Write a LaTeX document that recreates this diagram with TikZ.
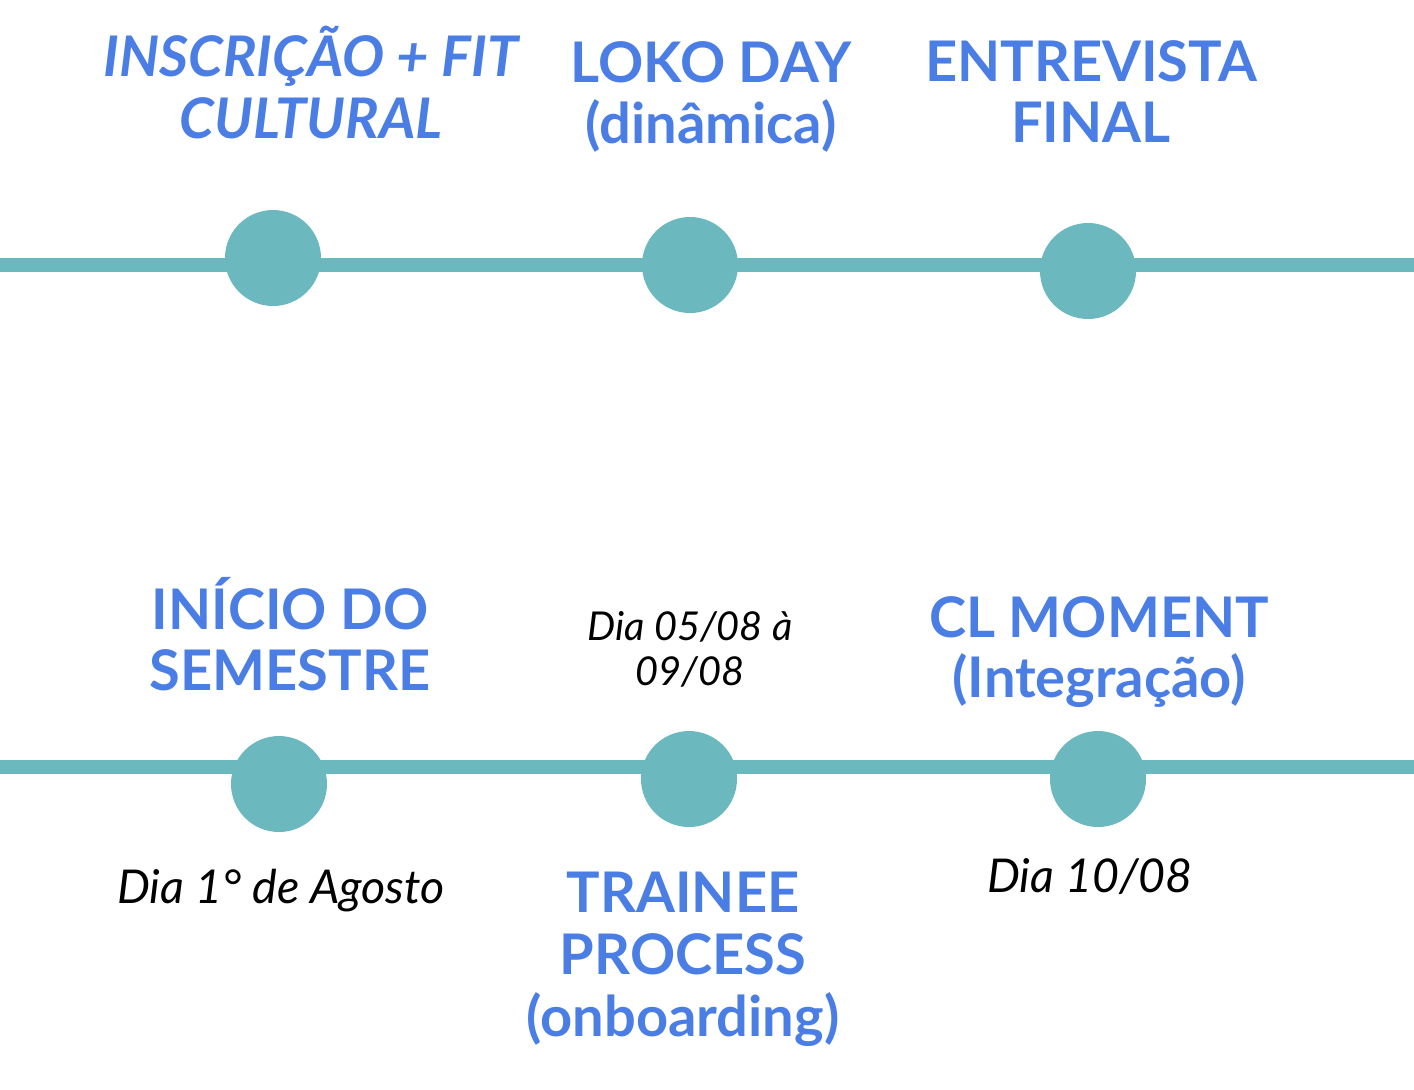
\documentclass[tikz,border=0pt]{standalone}
\usepackage{fontspec}
\setmainfont{Lato}
\definecolor{headblue}{RGB}{74,126,229}
\definecolor{teal}{RGB}{107,184,191}
\begin{document}
\begin{tikzpicture}[x=0.5pt,y=-0.5pt,
  tline/.style={draw=teal,line width=7pt},
  dot/.style={circle,fill=teal,minimum size=48pt,inner sep=0pt},
  head/.style={text=headblue,font=\fontsize{28}{30.5}\selectfont\bfseries,align=center,anchor=base,inner sep=0pt},
  headit/.style={head,font=\fontsize{28}{31}\selectfont\bfseries\itshape},
  date/.style={text=black,font=\fontsize{23.3}{24}\selectfont\itshape,align=center,anchor=base,inner sep=0pt}]
\useasboundingbox (0,0) rectangle (1414,1089);
% top timeline
\coordinate (tl) at (0,265);
\coordinate (tr) at (1414,265);
\draw[tline] (tl) -- (tr);
\node[dot] (c1) at (273,258) {};
\node[dot] (c2) at (690,265) {};
\node[dot] (c3) at (1088,271) {};
% bottom timeline
\coordinate (bl) at (0,767);
\coordinate (br) at (1414,767);
\draw[tline] (bl) -- (br);
\node[dot] (c4) at (279,784) {};
\node[dot] (c5) at (689,779) {};
\node[dot] (c6) at (1098,779) {};
% labels (anchored at the baseline of the last line)
\node[headit] (t1) at (311,138) {INSCRIÇÃO + FIT\\CULTURAL};
\node[head,font=\fontsize{28}{30.5}\selectfont\bfseries] (t2) at (711,143) {LOKO DAY\\(dinâmica)};
\node[head] (t3) at (1091,142) {ENTREVISTA\\FINAL};
\node[head] (t4) at (290,690) {INÍCIO DO\\SEMESTRE};
\node[date,font=\fontsize{19.9}{22.5}\selectfont\itshape] (d5) at (690,685) {Dia 05/08 à\\09/08};
\node[head,font=\fontsize{28}{30}\selectfont\bfseries] (t6) at (1099,697) {CL MOMENT\\(Integração)};
\node[date] (d4) at (281,903) {Dia 1° de Agosto};
\node[head,font=\fontsize{28}{30.8}\selectfont\bfseries] (t5) at (683,1036) {TRAINEE\\PROCESS\\(onboarding)};
\node[date] (d6) at (1090,892) {Dia 10/08};
\end{tikzpicture}
\end{document}
